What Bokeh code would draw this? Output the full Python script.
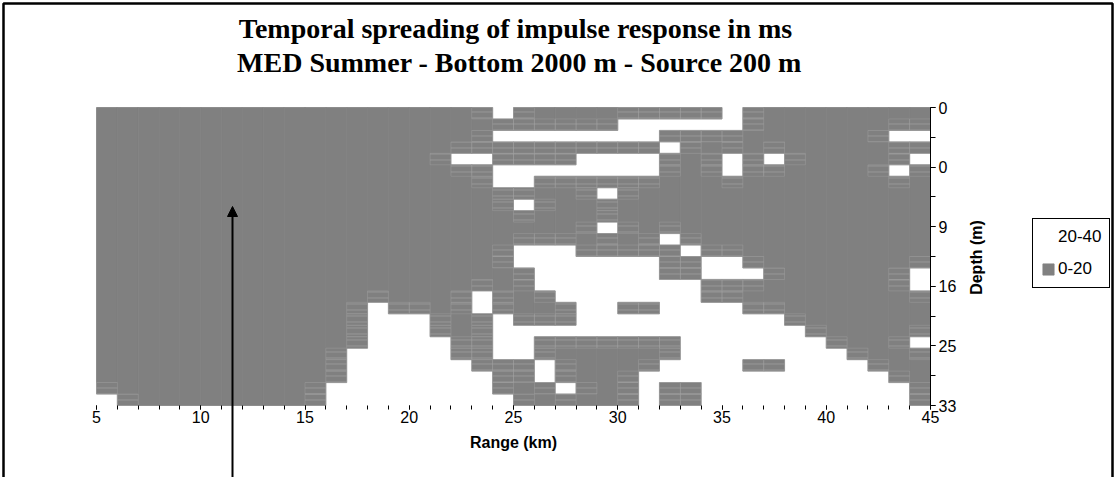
import math
from bokeh.plotting import figure
from bokeh.models import (Range1d, FixedTicker, Label, Arrow, NormalHead, Legend, LegendItem,
                          BoxAnnotation, ColumnDataSource, LinearAxis)
from bokeh.embed import file_html
from bokeh.resources import INLINE

# ---------------- data ----------------
range_km = list(range(5, 45))            # left edge of each 1-km range cell
x_major = [5, 10, 15, 20, 25, 30, 35, 40, 45]
x_minor = list(range(5, 46))
range_min, range_max = 5, 45
depth_max = 33
n_rows = 26
depth_major = [0, 6.6, 13.2, 19.8, 26.4, 33]
depth_minor = [0, 3.3, 6.6, 9.9, 13.2, 16.5, 19.8, 23.1, 26.4, 29.7, 33]
depth_labels = ["0", "0", "9", "16", "25", "33"]
band_names = ["20-40", "0-20"]
# one string per range column (top -> bottom): '#' = 0-20 ms, '.' = 20-40 ms
band_cols = [
    "#########################.",  # 5
    "##########################",  # 6
    "##########################",  # 7
    "##########################",  # 8
    "##########################",  # 9
    "##########################",  # 10
    "##########################",  # 11
    "##########################",  # 12
    "##########################",  # 13
    "##########################",  # 14
    "##########################",  # 15
    "########################..",  # 16
    "#####################.....",  # 17
    "#################.........",  # 18
    "##################........",  # 19
    "##################........",  # 20
    "####################......",  # 21
    "####.#################....",  # 22
    "####.###########..#####...",  # 23
    ".#.##..###########....###.",  # 24
    "##.##..#.###..#####...####",  # 25
    "##.##.######....###.##..##",  # 26
    "##.##.######.....##.####.#",  # 27
    "##.#..#######.......######",  # 28
    "##.#..#.##.##.......######",  # 29
    "#..#..#######....#..######",  # 30
    "#..#..#######....#..###...",  # 31
    "#.#.#######.###.....##..##",  # 32
    "#.##########.##.........##",  # 33
    "#.###########..##.........",  # 34
    "..##..#######..##.........",  # 35
    "##############.###....#...",  # 36
    "####.#############....#...",  # 37
    "###################.......",  # 38
    "####################......",  # 39
    "#####################.....",  # 40
    "######################....",  # 41
    "#######################...",  # 42
    "##.##.##################..",  # 43
    "##.#.#########..####.#####",  # 44
]

# ---------------- canvas <-> data mapping ----------------
W, H = 1116, 477
FX0, FX1, FY0, FY1 = 96, 930, 107, 405          # data rectangle in canvas pixels
kx = (range_max - range_min) / (FX1 - FX0)
ky = depth_max / (FY1 - FY0)
def X(px):
    return range_min + (px - FX0) * kx
def Y(py):
    return (py - FY0) * ky

# ---------------- build cells ----------------
row_h = depth_max / n_rows
cells = {"#": dict(left=[], right=[], top=[], bottom=[]),
         ".": dict(left=[], right=[], top=[], bottom=[])}
for km, col in zip(range_km, band_cols):
    start = 0
    for r in range(1, n_rows + 1):
        if r == n_rows or col[r] != col[start]:
            d = cells[col[start]]
            d["left"].append(km)
            d["right"].append(km + 1)
            d["top"].append(start * row_h)
            d["bottom"].append(r * row_h)
            start = r

# grey cells next to a band change show the light surface mesh
mesh = dict(left=[], right=[], top=[], bottom=[])
nc = len(band_cols)
for i, col in enumerate(band_cols):
    for r in range(n_rows):
        if col[r] != "#":
            continue
        nb = []
        if r > 0: nb.append(col[r - 1])
        if r < n_rows - 1: nb.append(col[r + 1])
        if i > 0: nb.append(band_cols[i - 1][r])
        if i < nc - 1: nb.append(band_cols[i + 1][r])
        if "." in nb:
            mesh["left"].append(range_km[i])
            mesh["right"].append(range_km[i] + 1)
            mesh["top"].append(r * row_h)
            mesh["bottom"].append((r + 1) * row_h)

p = figure(width=W, height=H, x_range=Range1d(X(0), X(W)), y_range=Range1d(Y(H), Y(0)),
           output_backend="svg", toolbar_location=None, title=None,
           x_axis_location=None, y_axis_location=None,
           min_border_left=0, min_border_right=0, min_border_top=0, min_border_bottom=0)
p.outline_line_color = None
p.grid.visible = False
p.background_fill_color = "white"
p.border_fill_color = "white"

r_white = p.quad(left="left", right="right", top="top", bottom="bottom",
                 source=ColumnDataSource(cells["."]), fill_color="white", line_color=None)
r_grey = p.quad(left="left", right="right", top="top", bottom="bottom",
                source=ColumnDataSource(cells["#"]), fill_color="#808080",
                line_color="#808080", line_width=0.8)
p.quad(left="left", right="right", top="top", bottom="bottom", source=ColumnDataSource(mesh),
       fill_alpha=0, line_color="#a6a6a6", line_width=0.6, line_alpha=0.6,
       hatch_pattern="horizontal_line", hatch_color="#aaaaaa", hatch_scale=6,
       hatch_weight=0.6, hatch_alpha=0.9)

# x axis (range) at the bottom of the data area
xa = LinearAxis(fixed_location=depth_max, bounds=(range_min, range_max))
xa.ticker = FixedTicker(ticks=x_major, minor_ticks=x_minor)
xa.axis_line_color = None
xa.major_tick_in = 0
xa.major_tick_out = 4
xa.minor_tick_in = 0
xa.minor_tick_out = 4
xa.major_tick_line_color = "black"
xa.minor_tick_line_color = "black"
xa.major_label_text_font = "Liberation Sans"
xa.major_label_text_font_size = "16px"
xa.major_label_text_color = "black"
xa.major_label_standoff = 1
xa.axis_label = "Range (km)"
xa.axis_label_text_font = "Liberation Sans"
xa.axis_label_text_font_style = "bold"
xa.axis_label_text_font_size = "16px"
xa.axis_label_text_color = "black"
xa.axis_label_standoff = 8
p.add_layout(xa, "below")

# right (depth) axis
ya = LinearAxis(fixed_location=range_max, bounds=(0, depth_max))
ya.ticker = FixedTicker(ticks=depth_major, minor_ticks=depth_minor)
ya.major_label_overrides = {t: s for t, s in zip(depth_major, depth_labels)}
ya.axis_line_color = "black"
ya.major_tick_in = 0
ya.major_tick_out = 5
ya.minor_tick_in = 0
ya.minor_tick_out = 5
ya.major_tick_line_color = "black"
ya.minor_tick_line_color = "black"
ya.major_label_text_font = "Liberation Sans"
ya.major_label_text_font_size = "16px"
ya.major_label_text_color = "black"
ya.major_label_standoff = 3
p.add_layout(ya, "right")

p.add_layout(Label(x=X(976), y=Y(257), text="Depth (m)", angle=math.pi / 2,
                   text_align="center", text_baseline="middle", text_font="Liberation Sans",
                   text_font_style="bold", text_font_size="16px", text_color="black"))

# title (two lines)
p.add_layout(Label(x=X(515), y=Y(28), text="Temporal spreading of impulse response in ms",
                   text_align="center", text_baseline="middle", text_font="Liberation Serif",
                   text_font_style="bold", text_font_size="28px", text_color="black"))
p.add_layout(Label(x=X(519), y=Y(62), text="MED Summer - Bottom 2000 m - Source 200 m",
                   text_align="center", text_baseline="middle", text_font="Liberation Serif",
                   text_font_style="bold", text_font_size="28px", text_color="black"))

# arrow
p.add_layout(Arrow(end=NormalHead(size=10, fill_color="black", line_color="black"),
                   x_start=X(232), y_start=Y(H + 5), x_end=X(232), y_end=Y(206),
                   line_width=2, line_color="black"))

# legend
leg = Legend(items=[LegendItem(label=band_names[0], renderers=[r_white]),
                    LegendItem(label=band_names[1], renderers=[r_grey])],
             location=(1032, H - 288), glyph_width=14, glyph_height=14, label_height=17,
             spacing=12, padding=8, margin=0, label_standoff=3,
             label_text_font="Liberation Sans", label_text_font_size="17px",
             label_text_color="black",
             border_line_color="black", border_line_width=1, border_line_alpha=1,
             background_fill_alpha=1)
p.add_layout(leg, "center")

# outer chart border
p.add_layout(BoxAnnotation(left=X(3), right=X(1112), top=Y(3), bottom=Y(H + 20),
                           fill_alpha=0, line_color="black", line_alpha=1, line_width=2.5))

open("out.html", "w").write(file_html(p, INLINE))
